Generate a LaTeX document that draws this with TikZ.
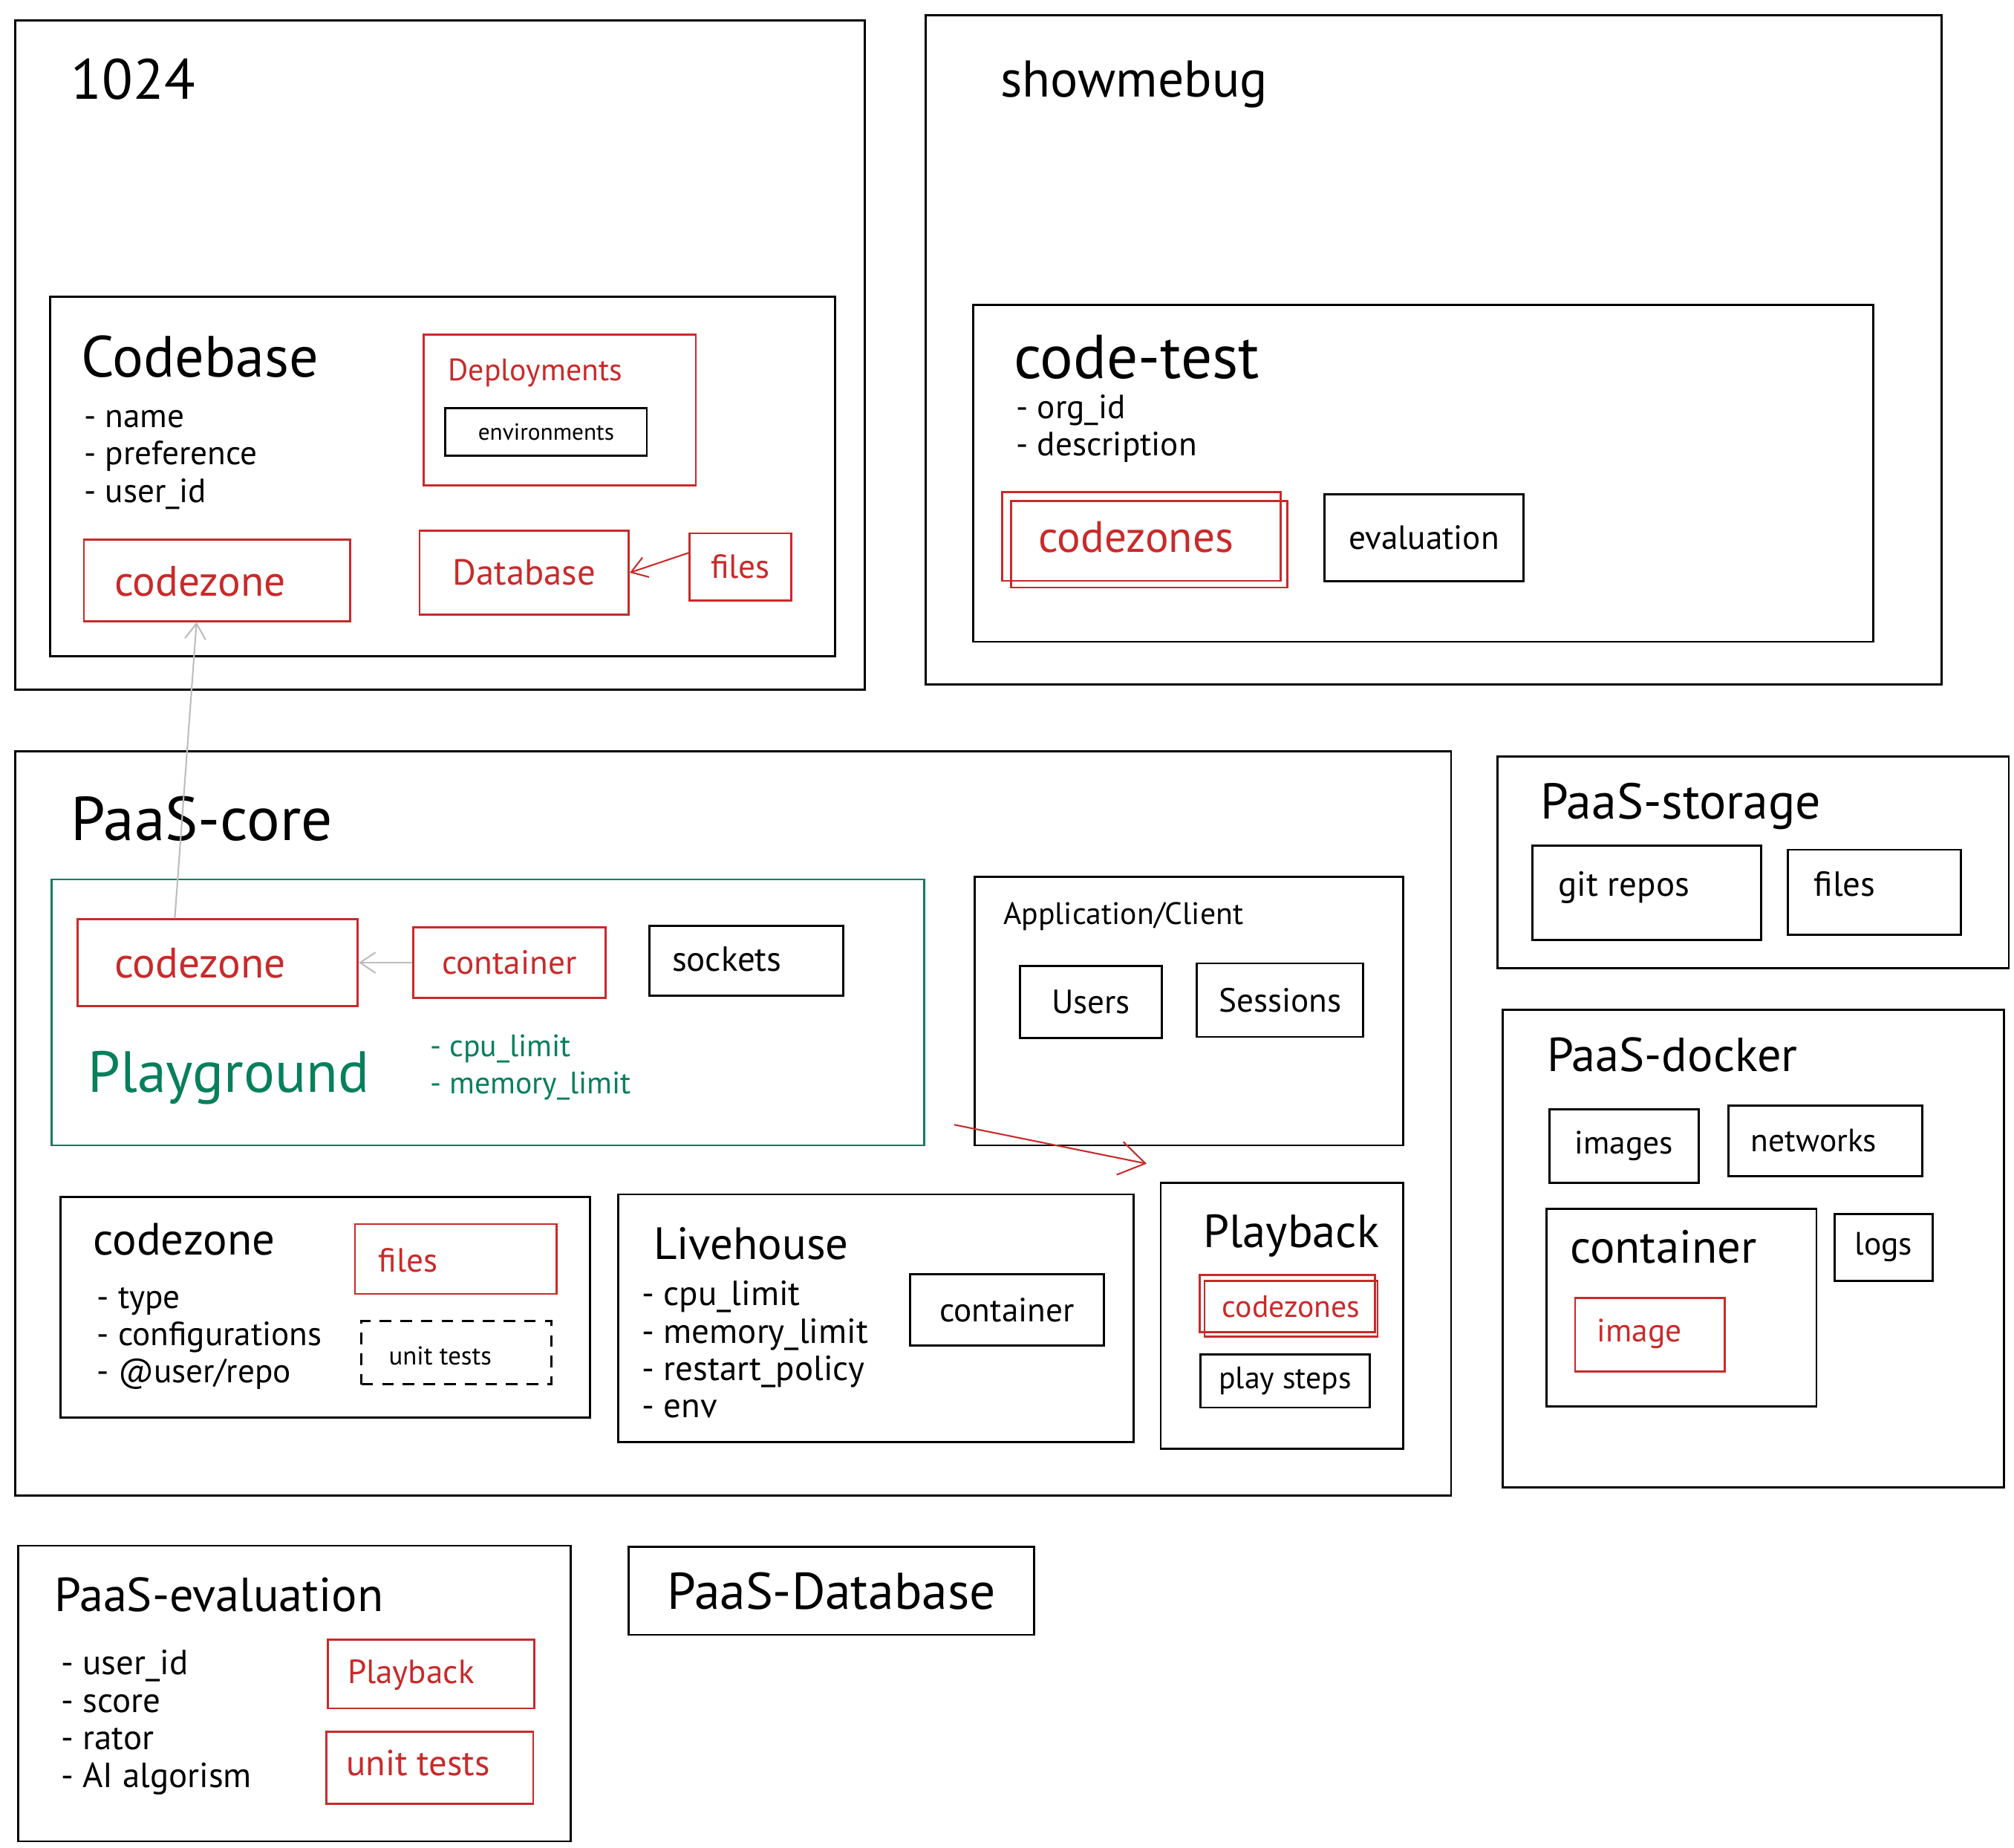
\documentclass[tikz,border=0pt]{standalone}
\usepackage{fontspec}
\setmainfont{PT Sans}
\usetikzlibrary{positioning,fit,arrows.meta}
\definecolor{exred}{HTML}{C92A2A}
\definecolor{exgreen}{HTML}{087F5B}
\definecolor{exgray}{HTML}{BDBDBD}
\newcommand\fsz[1]{\fontsize{#1}{#1}\selectfont}

\begin{document}
\begin{tikzpicture}[x=1pt,y=-1pt,
    box/.style={draw=black,line width=1.6pt,inner sep=0pt},
    redbox/.style={box,draw=exred},
    greenbox/.style={box,draw=exgreen},
    dashbox/.style={box,dash pattern=on 9pt off 7pt},
    lbl/.style={anchor=base west,inner sep=0pt,font=\fsz{#1}},
    mid/.style={inner sep=0pt,font=\fsz{#1}},
    barb/.style={line width=1.2pt,-{Straight Barb[length=12pt,width=16pt]}}]
  \useasboundingbox (0,0) rectangle (1560,1431);

  % 1024 / Codebase
  \node[box,fit={(12,16) (670,534)}] (org) {};
  \node[lbl=44] (org-t) at (55,77) {1024};
  \node[box,fit={(39,230) (647,508)}] (cb) {};
  \node[lbl=45] (cb-t) at (63,292) {Codebase};
  \foreach \t [count=\i from 0] in {name,preference,user\_id}
    \node[lbl=26] (cb-\i) at (65,331+29*\i) {- \t};
  \node[redbox,fit={(328,259) (539,376)}] (cbdep) {};
  \node[lbl=24,text=exred] (cbdep-t) at (347,295) {Deployments};
  \node[box,fit={(345,316) (501,353)}] (cbenv) {};
  \node[mid=18] (cbenv-t) at (cbenv.center) {environments};
  \node[redbox,fit={(65,418) (271,481)}] (cbcz) {};
  \node[mid=33,text=exred] (cbcz-t) at (155,450) {codezone};
  \node[redbox,fit={(325,411) (487,476)}] (cbdb) {};
  \node[mid=28,text=exred] (cbdb-t) at (cbdb.center) {Database};
  \node[redbox,fit={(534,413) (613,465)}] (cbfiles) {};
  \node[mid=26,text=exred] (cbfiles-t) at (cbfiles.center) {files};
  \draw[barb,exred] (cbfiles.165) -- (cbdb.east);

  % showmebug / code-test
  \node[box,fit={(717,12) (1504,530)}] (smb) {};
  \node[lbl=40] (smb-t) at (775,75) {showmebug};
  \node[box,fit={(754,236) (1451,497)}] (ct) {};
  \node[lbl=48] (ct-t) at (785,293) {code-test};
  \foreach \t [count=\i from 0] in {org\_id,description}
    \node[lbl=26] (ct-\i) at (787,324+29*\i) {- \t};
  \node[redbox,fit={(783,388) (997,455)}] (ctcz) {};
  \draw[exred,line width=1.6pt] ([shift={(-6,-6)}]ctcz.north west) rectangle ([shift={(-6,-6)}]ctcz.south east);
  \node[mid=34,text=exred] (ctcz-t) at (880,416) {codezones};
  \node[box,fit={(1026,383) (1180,450)}] (cteval) {};
  \node[mid=26] (cteval-t) at (cteval.center) {evaluation};

  % PaaS-core
  \node[box,fit={(12,582) (1124,1158)}] (core) {};
  \node[lbl=48] (core-t) at (55,651) {PaaS-core};
  \node[greenbox,fit={(40,681) (716,887)}] (pg) {};
  \node[redbox,fit={(60,712) (277,779)}] (pgcz) {};
  \node[mid=33,text=exred] (pgcz-t) at (155,746) {codezone};
  \node[redbox,fit={(320,718) (469,773)}] (pgcont) {};
  \node[mid=26,text=exred] (pgcont-t) at (pgcont.center) {container};
  \node[box,fit={(503,717) (653,771)}] (pgsock) {};
  \node[mid=27] (pgsock-t) at (563,743) {sockets};
  \node[lbl=45,text=exgreen] (pg-t) at (68,846) {Playground};
  \foreach \t [count=\i from 0] in {cpu\_limit,memory\_limit}
    \node[lbl=24,text=exgreen] (pg-\i) at (333,818+29*\i) {- \t};
  \draw[barb,exgray] (pgcont.west) -- (pgcz.east);
  \draw[barb,exgray] (pgcz.134) -- (cbcz.244);

  \node[box,fit={(755,679) (1087,887)}] (app) {};
  \node[lbl=24] (app-t) at (777,716) {Application/Client};
  \node[box,fit={(790,748) (900,804)}] (appusr) {};
  \node[mid=26] (appusr-t) at (appusr.center) {Users};
  \node[box,fit={(927,746) (1056,803)}] (appses) {};
  \node[mid=26] (appses-t) at (appses.center) {Sessions};

  \node[box,fit={(899,916) (1087,1122)}] (pb) {};
  \node[lbl=36] (pb-t) at (932,966) {Playback};
  \node[redbox,fit={(933,992) (1067,1035)}] (pbcz) {};
  \draw[exred,line width=1.6pt] ([shift={(-3,-4)}]pbcz.north west) rectangle ([shift={(-3,-4)}]pbcz.south east);
  \node[mid=24,text=exred] (pbcz-t) at (1000,1012) {codezones};
  \node[box,fit={(930,1049) (1061,1090)}] (pbsteps) {};
  \node[mid=24] (pbsteps-t) at (pbsteps.center) {play steps};
  \coordinate (pbfrom) at (739,871);
  \draw[exred,line width=1.2pt,-{Straight Barb[length=20pt,width=26pt]}] (pbfrom) -- ([shift={(-10,-14)}]pb.north west);

  \node[box,fit={(47,927) (457,1098)}] (cz) {};
  \node[lbl=35] (cz-t) at (72,972) {codezone};
  \foreach \t [count=\i from 0] in {type,configurations,@user/repo}
    \node[lbl=26] (cz-\i) at (75,1013+29*\i) {- \t};
  \node[redbox,fit={(275,948) (431,1002)}] (czfiles) {};
  \node[lbl=26,text=exred] (czfiles-t) at (293,985) {files};
  \node[dashbox,fit={(280,1023) (427,1072)}] (czunit) {};
  \node[mid=20] (czunit-t) at (341,1050) {unit tests};

  \node[box,fit={(479,925) (878,1117)}] (lh) {};
  \node[lbl=35] (lh-t) at (506,975) {Livehouse};
  \foreach \t [count=\i from 0] in {cpu\_limit,memory\_limit,restart\_policy,env}
    \node[lbl=27] (lh-\i) at (497,1011+29*\i) {- \t};
  \node[box,fit={(705,987) (855,1042)}] (lhcont) {};
  \node[mid=26] (lhcont-t) at (lhcont.center) {container};

  % PaaS-storage
  \node[box,fit={(1160,586) (1556,750)}] (st) {};
  \node[lbl=39] (st-t) at (1193,634) {PaaS-storage};
  \node[box,fit={(1187,655) (1364,728)}] (stgit) {};
  \node[lbl=27] (stgit-t) at (1207,694) {git repos};
  \node[box,fit={(1385,658) (1519,724)}] (stfiles) {};
  \node[lbl=27] (stfiles-t) at (1405,694) {files};

  % PaaS-docker
  \node[box,fit={(1164,782) (1552,1152)}] (dk) {};
  \node[lbl=37] (dk-t) at (1198,830) {PaaS-docker};
  \node[box,fit={(1200,859) (1316,916)}] (dkimg) {};
  \node[mid=25] (dkimg-t) at (dkimg.center) {images};
  \node[box,fit={(1339,856) (1489,911)}] (dknet) {};
  \node[mid=25] (dknet-t) at (1405,883) {networks};
  \node[box,fit={(1198,936) (1407,1089)}] (dkcont) {};
  \node[lbl=36] (dkcont-t) at (1216,978) {container};
  \node[redbox,fit={(1220,1005) (1336,1062)}] (dkimage) {};
  \node[mid=25,text=exred] (dkimage-t) at (1270,1033) {image};
  \node[box,fit={(1421,940) (1497,992)}] (dklogs) {};
  \node[mid=25] (dklogs-t) at (dklogs.center) {logs};

  % PaaS-evaluation / PaaS-Database
  \node[box,fit={(14,1197) (442,1426)}] (ev) {};
  \node[lbl=37] (ev-t) at (42,1248) {PaaS-evaluation};
  \foreach \t [count=\i from 0] in {user\_id,score,rator,AI algorism}
    \node[lbl=27] (ev-\i) at (47,1297+29*\i) {- \t};
  \node[redbox,fit={(254,1270) (414,1323)}] (evpb) {};
  \node[lbl=26,text=exred] (evpb-t) at (269,1304) {Playback};
  \node[redbox,fit={(253,1341) (413,1397)}] (evunit) {};
  \node[lbl=28,text=exred] (evunit-t) at (268,1375) {unit tests};
  \node[box,fit={(487,1198) (801,1266)}] (db) {};
  \node[mid=40] (db-t) at (db.center) {PaaS-Database};
\end{tikzpicture}
\end{document}
